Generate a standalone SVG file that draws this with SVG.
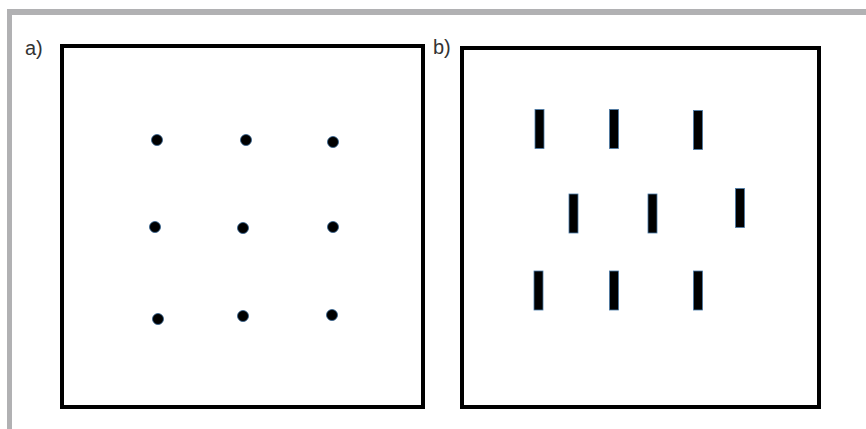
<svg xmlns="http://www.w3.org/2000/svg" width="866" height="429" viewBox="0 0 866 429">
<style>
.frame{fill:#b1b1b3}
.panel{fill:none;stroke:#000;stroke-width:4}
.dot{fill:#000;stroke:#2f5f8f;stroke-width:0.8}
.bar{fill:#000;stroke:#4a7aa8;stroke-width:0.8}
.lbl{font-family:"Liberation Sans",Arial,sans-serif;font-size:20px;fill:#333}
</style>
<rect width="866" height="429" fill="#fff"/>
<rect class="frame" x="7" y="9" width="859" height="6"/>
<rect class="frame" x="7" y="9" width="5" height="420"/>
<g id="panel-a">
<text class="lbl" x="25" y="55">a)</text>
<rect class="panel" x="62" y="46" width="361" height="361"/>
<circle class="dot" cx="157" cy="140" r="5.5"/>
<circle class="dot" cx="246" cy="140" r="5.5"/>
<circle class="dot" cx="333" cy="142" r="5.5"/>
<circle class="dot" cx="155" cy="227" r="5.5"/>
<circle class="dot" cx="243" cy="228" r="5.5"/>
<circle class="dot" cx="333" cy="227" r="5.5"/>
<circle class="dot" cx="158" cy="319" r="5.5"/>
<circle class="dot" cx="243" cy="316" r="5.5"/>
<circle class="dot" cx="332" cy="315" r="5.5"/>
</g>
<g id="panel-b">
<text class="lbl" x="433" y="54">b)</text>
<rect class="panel" x="462" y="48" width="357" height="359"/>
<rect class="bar" x="535" y="109.5" width="9" height="39"/>
<rect class="bar" x="609.5" y="109.5" width="9" height="39"/>
<rect class="bar" x="693.5" y="110.5" width="9" height="39"/>
<rect class="bar" x="569" y="194" width="9" height="39"/>
<rect class="bar" x="648" y="194" width="9" height="39"/>
<rect class="bar" x="735.5" y="188.5" width="9" height="39"/>
<rect class="bar" x="534" y="271" width="9" height="39"/>
<rect class="bar" x="609.5" y="271" width="9" height="39"/>
<rect class="bar" x="693.5" y="271" width="9" height="39"/>
</g>
</svg>
